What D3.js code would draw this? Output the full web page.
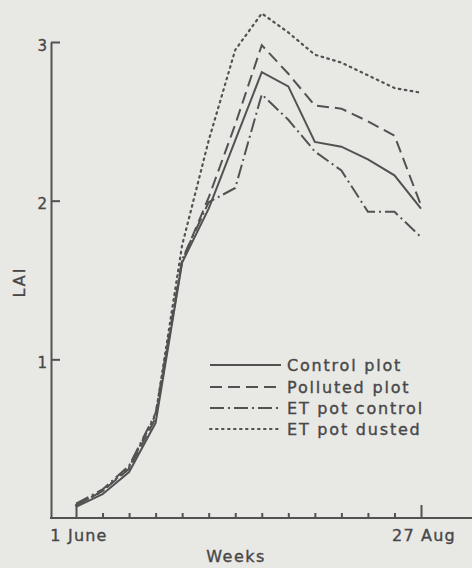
<!DOCTYPE html>
<html>
<head>
<meta charset="utf-8">
<script src="https://cdn.jsdelivr.net/npm/d3@7"></script>
<style>
  html, body { margin: 0; padding: 0; background: #e8e8e5; }
  svg { display: block; }
  text { font-family: "DejaVu Sans", sans-serif; fill: #474747; stroke: #474747; stroke-width: 0.35px; }
</style>
</head>
<body>
<svg id="chart" width="472" height="568"></svg>
<script>
// ---- data ----
const weeks = [0,1,2,3,4,5,6,7,8,9,10,11,12,13];
const xTickLabels = [{i: 0, label: "1 June"}, {i: 13, label: "27 Aug"}];
const yTickValues = [1, 2, 3];
const seriesNames = ["Control plot", "Polluted plot", "ET pot control", "ET pot dusted"];
const controlPlot   = [0.07, 0.15, 0.29, 0.60, 1.61, 1.95, 2.38, 2.81, 2.72, 2.37, 2.34, 2.26, 2.16, 1.95];
const pollutedPlot  = [0.08, 0.17, 0.31, 0.63, 1.62, 2.02, 2.48, 2.98, 2.80, 2.60, 2.58, 2.50, 2.41, 1.97];
const etPotControl  = [0.09, 0.18, 0.33, 0.66, 1.63, 1.99, 2.08, 2.67, 2.51, 2.31, 2.19, 1.93, 1.93, 1.77];
const etPotDusted   = [0.08, 0.17, 0.32, 0.65, 1.72, 2.38, 2.95, 3.18, 3.06, 2.92, 2.87, 2.79, 2.71, 2.68];

const allSeries = [controlPlot, pollutedPlot, etPotControl, etPotDusted];
const dashes = [null, "12,6", "14,4,2,4", "1.6,4.4"];
const ink = "#525252";

const svg = d3.select("#chart");
svg.append("rect").attr("width", 472).attr("height", 568).attr("fill", "#e8e8e5");

const x = d3.scaleLinear().domain([0, 13]).range([76, 421]);
const y = d3.scaleLinear().domain([0, 3]).range([518, 42]);

// y axis
const yAxis = svg.append("g").attr("transform", "translate(51,0)")
  .call(d3.axisLeft(y).tickValues(yTickValues).tickSize(-9).tickSizeOuter(0).tickPadding(4).tickFormat(d3.format("d")));
yAxis.select(".domain").attr("stroke", ink).attr("stroke-width", 2);
yAxis.selectAll(".tick line").attr("stroke", ink).attr("stroke-width", 2);
yAxis.selectAll(".tick text").attr("font-size", 15).attr("fill", "#474747").attr("dy", "0.55em")
  .style("font-family", "DejaVu Sans, sans-serif");

// x axis baseline
svg.append("line").attr("x1", 50).attr("x2", 472).attr("y1", y(0)).attr("y2", y(0))
  .attr("stroke", ink).attr("stroke-width", 2);
const xAxis = svg.append("g").attr("transform", `translate(0,${y(0)})`)
  .call(d3.axisBottom(x).tickValues(weeks).tickSize(-5).tickFormat(""));
xAxis.select(".domain").remove();
xAxis.selectAll(".tick line").attr("stroke", ink).attr("stroke-width", 2)
  .attr("y2", d => (d === 0 || d === 13) ? -13 : -5);

svg.selectAll(".xlab").data(xTickLabels).join("text")
  .attr("x", d => x(d.i) + 3).attr("y", 541).attr("text-anchor", "middle")
  .attr("font-size", 16).attr("letter-spacing", 1.2).text(d => d.label);

svg.append("text").attr("x", 236).attr("y", 562).attr("text-anchor", "middle")
  .attr("font-size", 16).attr("letter-spacing", 1.5).text("Weeks");

svg.append("text").attr("transform", "translate(25,282) rotate(-90)").attr("text-anchor", "middle")
  .attr("font-size", 16).attr("letter-spacing", 2).text("LAI");

// lines
const line = d3.line().x((d, i) => x(weeks[i])).y(d => y(d));
allSeries.forEach((s, k) => {
  svg.append("path").datum(s).attr("d", line).attr("fill", "none")
    .attr("stroke", ink).attr("stroke-width", k === 3 ? 2.2 : 2)
    .attr("stroke-linecap", k === 3 ? "round" : "butt")
    .attr("stroke-dasharray", dashes[k]);
});

// legend
const legY = [365, 387, 408, 429];
seriesNames.forEach((name, k) => {
  svg.append("line").attr("x1", 210).attr("x2", 281).attr("y1", legY[k]).attr("y2", legY[k])
    .attr("stroke", ink).attr("stroke-width", 2)
    .attr("stroke-linecap", k === 3 ? "round" : "butt")
    .attr("stroke-dasharray", dashes[k]);
  svg.append("text").attr("x", 287).attr("y", legY[k] + 6)
    .attr("font-size", 16).attr("letter-spacing", 1.8).text(name);
});
</script>
</body>
</html>
